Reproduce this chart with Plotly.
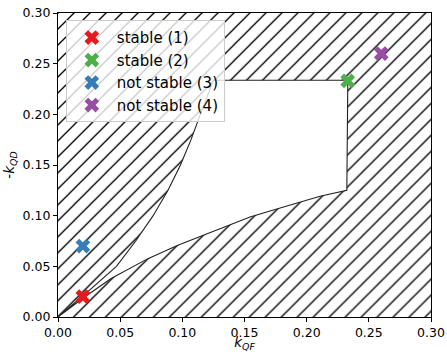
import plotly.graph_objects as go

# Stability boundary (white region)
lower_x = [0.0, 0.012, 0.0200, 0.0427, 0.0723, 0.0964, 0.1179, 0.1397, 0.1544, 0.1773, 0.1947, 0.2108, 0.2323]
lower_y = [0.0, 0.011, 0.0185, 0.0379, 0.0576, 0.0708, 0.0813, 0.0921, 0.0987, 0.1070, 0.1135, 0.1191, 0.1250]
right_x = [0.2323, 0.2331]
right_y = [0.1250, 0.2336]
left_x = [0.1250, 0.1195, 0.1145, 0.1070, 0.0985, 0.0885, 0.0765, 0.0625, 0.0470, 0.0240, 0.0]
left_y = [0.2336, 0.2150, 0.2000, 0.1750, 0.1500, 0.1250, 0.1000, 0.0750, 0.0500, 0.0250, 0.0]

# Operating points
point_names = ["stable (1)", "stable (2)", "not stable (3)", "not stable (4)"]
point_x = [0.02, 0.233, 0.02, 0.26]
point_y = [0.02, 0.233, 0.07, 0.26]
point_colors = ["#e41a1c", "#4daf4a", "#377eb8", "#984ea3"]

ax_min, ax_max = 0.0, 0.30
tick_vals = [0.0, 0.05, 0.10, 0.15, 0.20, 0.25, 0.30]
tick_text = ["0.00", "0.05", "0.10", "0.15", "0.20", "0.25", "0.30"]

fig = go.Figure()

# hatched background (unstable region)
fig.add_trace(go.Scatter(
    x=[ax_min, ax_max, ax_max, ax_min, ax_min],
    y=[ax_min, ax_min, ax_max, ax_max, ax_min],
    mode="lines", fill="toself", line=dict(width=0),
    fillcolor="white",
    fillpattern=dict(shape="/", size=11.3, solidity=0.12, fgcolor="black",
                     bgcolor="white", fgopacity=1),
    showlegend=False, hoverinfo="skip"))

# white stable region
bx = lower_x + right_x + left_x
by = lower_y + right_y + left_y
fig.add_trace(go.Scatter(
    x=bx, y=by, mode="lines", fill="toself", fillcolor="white",
    line=dict(color="#222222", width=1.1),
    showlegend=False, hoverinfo="skip"))

for n, xv, yv, c in zip(point_names, point_x, point_y, point_colors):
    fig.add_trace(go.Scatter(
        x=[xv], y=[yv], mode="markers", name=n,
        marker=dict(symbol="x", size=13, color=c, line=dict(width=0))))

axis_common = dict(
    range=[ax_min, ax_max], tickvals=tick_vals, ticktext=tick_text,
    showgrid=False, zeroline=False, showline=True, linecolor="black", linewidth=1.2,
    mirror=True, ticks="outside", ticklen=4, tickcolor="black", tickwidth=1,
    tickfont=dict(size=12.5, color="black"), automargin=False)

fig.update_xaxes(**axis_common,
                 title=dict(text="<i>k</i><sub><i>QF</i></sub>", font=dict(size=13.5, color="black"), standoff=0))
fig.update_yaxes(**axis_common,
                 title=dict(text="-<i>k</i><sub><i>QD</i></sub>", font=dict(size=13.5, color="black"), standoff=4))

fig.update_layout(
    width=447, height=352,
    margin=dict(l=58, r=16, t=13, b=35),
    paper_bgcolor="white", plot_bgcolor="white",
    font=dict(family="DejaVu Sans", color="black"),
    legend=dict(x=0.021, y=0.976, xanchor="left", yanchor="top",
                bgcolor="rgba(255,255,255,0.8)", bordercolor="#cccccc", borderwidth=1,
                font=dict(size=15), itemwidth=40, tracegroupgap=0),
)

fig.write_html("out.html", config={"displayModeBar": False},
               post_script="document.body.style.margin='0';document.body.style.overflow='hidden';")
